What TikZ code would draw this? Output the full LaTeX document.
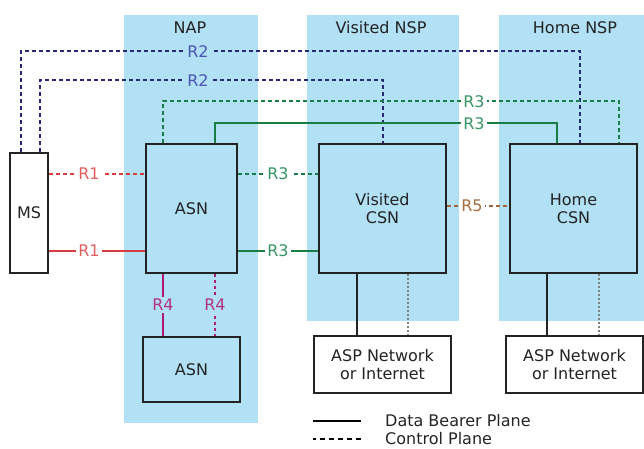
\documentclass[tikz,border=0pt]{standalone}
\usepackage{fontspec}
\setmainfont{DejaVu Sans}
\definecolor{band}{RGB}{178,224,244}
\definecolor{navy}{RGB}{40,40,120}
\definecolor{navyt}{RGB}{75,85,180}
\definecolor{gline}{RGB}{25,125,70}
\definecolor{gtext}{RGB}{55,150,100}
\definecolor{rline}{RGB}{215,60,60}
\definecolor{rtext}{RGB}{225,95,95}
\definecolor{mline}{RGB}{175,25,120}
\definecolor{mtext}{RGB}{180,50,130}
\definecolor{bline}{RGB}{160,100,55}
\definecolor{btext}{RGB}{165,110,65}
\definecolor{ink}{RGB}{35,35,35}
\tikzset{
  bandbox/.style={fill=band, draw=none},
  bandtitle/.style={text=ink, font=\fontsize{16}{18}\selectfont},
  netbox/.style={draw=ink, line width=1.9pt, fill=band, inner sep=0pt, align=center, text=ink, font=\fontsize{16}{18}\selectfont},
  whitebox/.style={netbox, fill=white},
  lbl/.style={inner xsep=2.5pt, inner ysep=0pt, font=\fontsize{16}{18}\selectfont, fill=white},
  ctrl/.style={line width=1.8pt, dash pattern=on 4pt off 3pt},
  data/.style={line width=1.8pt},
  dotl/.style={line width=1.6pt, dash pattern=on 2pt off 2pt},
}
\begin{document}
\begin{tikzpicture}[x=1pt,y=-1pt]
\useasboundingbox (0,0) rectangle (644,448);
% bands
\fill[band] (124,15) rectangle (258,423);
\fill[band] (307,15) rectangle (459,321);
\fill[band] (499,15) rectangle (644,321);
\node[bandtitle] (tnap) at (190,28) {NAP};
\node[bandtitle] (tvnsp) at (381,28) {Visited NSP};
\node[bandtitle] (thnsp) at (575,28) {Home NSP};
% boxes
\node[whitebox, minimum width=38pt, minimum height=120pt] (ms) at (29,213) {MS};
\node[netbox, minimum width=91pt, minimum height=129pt] (asn) at (191.5,208.5) {ASN};
\node[netbox, minimum width=97pt, minimum height=65pt] (asn2) at (191.5,369.5) {ASN};
\node[netbox, minimum width=127pt, minimum height=129pt] (vcsn) at (382.5,208.5) {Visited\\CSN};
\node[netbox, minimum width=127pt, minimum height=129pt] (hcsn) at (573.5,208.5) {Home\\CSN};
\node[whitebox, minimum width=137pt, minimum height=57pt] (aspl) at (382.5,364.5) {ASP Network\\or Internet};
\node[whitebox, minimum width=137pt, minimum height=57pt] (aspr) at (574.5,364.5) {ASP Network\\or Internet};
% R2
\draw[ctrl, navy] ([xshift=-8pt]ms.north) |- ([xshift=6.5pt, yshift=92pt]hcsn.north) -- ([xshift=6.5pt]hcsn.north);
\draw[ctrl, navy] ([xshift=11pt]ms.north) |- ([xshift=0.5pt, yshift=63pt]vcsn.north) -- ([xshift=0.5pt]vcsn.north);
\node[lbl, fill=band, text=navyt] (r2a) at (198,52) {R2};
\node[lbl, fill=band, text=navyt] (r2b) at (198,81) {R2};
% R3 top
\draw[ctrl, gline] ([xshift=-28.5pt]asn.north) |- ([xshift=45.5pt, yshift=42pt]hcsn.north) -- ([xshift=45.5pt]hcsn.north);
\draw[data, gline] ([xshift=23.5pt]asn.north) |- ([xshift=-16.5pt, yshift=20pt]hcsn.north) -- ([xshift=-16.5pt]hcsn.north);
\node[lbl, text=gtext] (r3a) at (474,102) {R3};
\node[lbl, text=gtext] (r3b) at (474,124) {R3};
% R1
\coordinate (r1p) at ([yshift=39pt]ms.east);
\coordinate (r1q) at ([yshift=-38pt]ms.east);
\draw[ctrl, rline] (r1p) -- (r1p -| asn.west);
\draw[data, rline] (r1q) -- (r1q -| asn.west);
\node[lbl, text=rtext] (r1a) at (89,174) {R1};
\node[lbl, text=rtext] (r1b) at (89,251) {R1};
% R3 ASN - VCSN
\coordinate (r3p) at ([yshift=34.5pt]asn.east);
\coordinate (r3q) at ([yshift=-42.5pt]asn.east);
\draw[ctrl, gline] (r3p) -- (r3p -| vcsn.west);
\draw[data, gline] (r3q) -- (r3q -| vcsn.west);
\node[lbl, text=gtext] (r3c) at (278,174) {R3};
\node[lbl, text=gtext] (r3d) at (278,251) {R3};
% R5
\coordinate (r5p) at ([yshift=2.5pt]vcsn.east);
\draw[ctrl, bline] (r5p) -- (r5p -| hcsn.west);
\node[lbl, text=btext] (r5) at (472,206) {R5};
% R4
\coordinate (r4p) at ([xshift=-28.5pt]asn.south);
\coordinate (r4q) at ([xshift=23.5pt]asn.south);
\draw[data, mline] (r4p) -- (r4p |- asn2.north);
\draw[ctrl, mline, dash pattern=on 3pt off 3pt] (r4q) -- (r4q |- asn2.north);
\node[lbl, fill=band, text=mtext, inner ysep=2pt] (r4a) at (163,305) {R4};
\node[lbl, fill=band, text=mtext, inner ysep=2pt] (r4b) at (215,305) {R4};
% CSN - ASP
\coordinate (va) at ([xshift=-25.5pt]vcsn.south);
\coordinate (vb) at ([xshift=25.5pt]vcsn.south);
\draw[data, ink] (va) -- (va |- aspl.north);
\draw[dotl, gray] (vb) -- (vb |- aspl.north);
\coordinate (ha) at ([xshift=-26.5pt]hcsn.south);
\coordinate (hb) at ([xshift=25.5pt]hcsn.south);
\draw[data, ink] (ha) -- (ha |- aspr.north);
\draw[dotl, gray] (hb) -- (hb |- aspr.north);
% legend
\node[anchor=west, text=ink, inner sep=0pt, font=\fontsize{16}{18}\selectfont] (leg1) at (385,421) {Data Bearer Plane};
\node[anchor=west, text=ink, inner sep=0pt, font=\fontsize{16}{18}\selectfont] (leg2) at (385,439) {Control Plane};
\draw[line width=2.2pt, black] ([xshift=-24pt]leg1.west) -- ++(-48,0);
\draw[line width=2.2pt, black, dash pattern=on 5pt off 4pt] ([xshift=-24pt]leg2.west) -- ++(-48,0);
\end{tikzpicture}
\end{document}
